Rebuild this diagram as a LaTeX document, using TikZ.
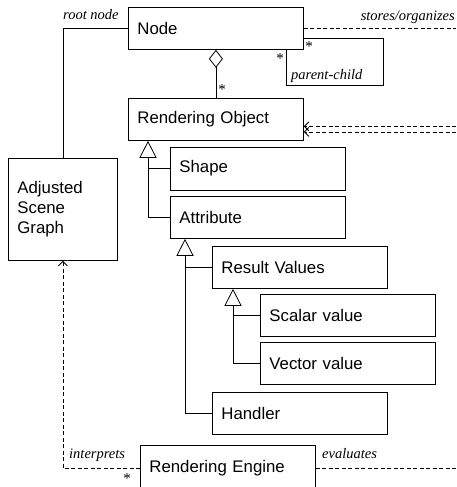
\documentclass[tikz,border=0pt]{standalone}
\usepackage{fontspec}
\setmainfont{Liberation Sans}
\newfontfamily\lblfont{Liberation Serif}
\usetikzlibrary{arrows.meta}
\begin{document}
\begin{tikzpicture}[x=1pt,y=-1pt,
  box/.style={draw, line width=0.8pt, rectangle, anchor=north west, inner xsep=9pt, inner ysep=0pt, minimum height=42pt, text width=157pt, align=left, font=\fontsize{16.8}{20}\selectfont},
  lbl/.style={inner sep=0pt, font=\fontsize{14.5}{16}\selectfont\lblfont\itshape},
  mult/.style={inner sep=0pt, font=\fontsize{15}{15}\selectfont\lblfont},
  conn/.style={line width=0.8pt},
  dep/.style={conn, dash pattern=on 4pt off 2.5pt},
  gen/.style={conn, -{Triangle[open, length=17pt, width=17pt]}},
  agg/.style={conn, {Diamond[open, length=18pt, width=14pt]}-},
  opentip/.style={-{Straight Barb[length=4.5pt, width=9pt]}}
]
\clip (0,0) rectangle (457,487);
% boxes
\node[box] (node) at (128,7) {Node};
\node[box] (ro) at (128,98) {Rendering Object};
\node[box, minimum height=43pt] (shape) at (170,146.5) {Shape};
\node[box] (attr) at (170,196) {Attribute};
\node[box] (rv) at (212,246) {Result Values};
\node[box] (sv) at (260,294) {Scalar value};
\node[box] (vv) at (260,342) {Vector value};
\node[box] (hd) at (212,392) {Handler};
\node[box, minimum height=46pt] (re) at (140,445) {Rendering Engine};
\node[box, text width=91pt, minimum height=102pt] (asg) at (8,158) {Adjusted\\Scene\\Graph};
% free ends on the right edge
\coordinate (R) at (456,0);
\coordinate (pc) at (383,85);
\coordinate (g1) at ([xshift=20pt]ro.south west);
\coordinate (g2) at ([xshift=15pt]attr.south west);
\coordinate (g3) at ([xshift=21pt]rv.south west);
% aggregation
\draw[agg] (node.south) -- (ro.north);
% generalizations
\draw[gen] (attr.west) -| (g1);
\draw[conn] (shape.west) -- (shape.west -| g1);
\draw[gen] (hd.west) -| (g2);
\draw[conn] (rv.west) -- (rv.west -| g2);
\draw[gen] (vv.west) -| (g3);
\draw[conn] (sv.west) -- (sv.west -| g3);
% root node
\draw[conn] (node.west) -| (asg.north);
% parent-child loop
\draw[conn] ([xshift=-17pt]node.south east) |- (pc) |- ([yshift=-10.5pt]node.east);
% stores / organizes
\draw[dep] (node.east) -- (node.east -| R);
\draw[dep, opentip] ([yshift=-7pt]ro.east -| R) -- ([yshift=-7pt]ro.east);
\draw[dep, opentip] ([yshift=-12.5pt]ro.east -| R) -- ([yshift=-12.5pt]ro.east);
% rendering engine
\draw[dep, opentip] (re.west) -| (asg.south);
\draw[dep] (re.east) -- (re.east -| R);
% labels
\node[lbl, anchor=base east] at (455,21) {stores/organizes};
\node[lbl, anchor=base west] at (63,20) {root node};
\node[lbl, anchor=base west] at (291,79) {parent-child};
\node[lbl, anchor=base west] at (69,458) {interprets};
\node[lbl, anchor=base west] at (322,458) {evaluates};
\node[mult] at (222,90) {*};
\node[mult] at (280,59) {*};
\node[mult] at (309,47) {*};
\node[mult] at (127,479) {*};
\end{tikzpicture}
\end{document}
